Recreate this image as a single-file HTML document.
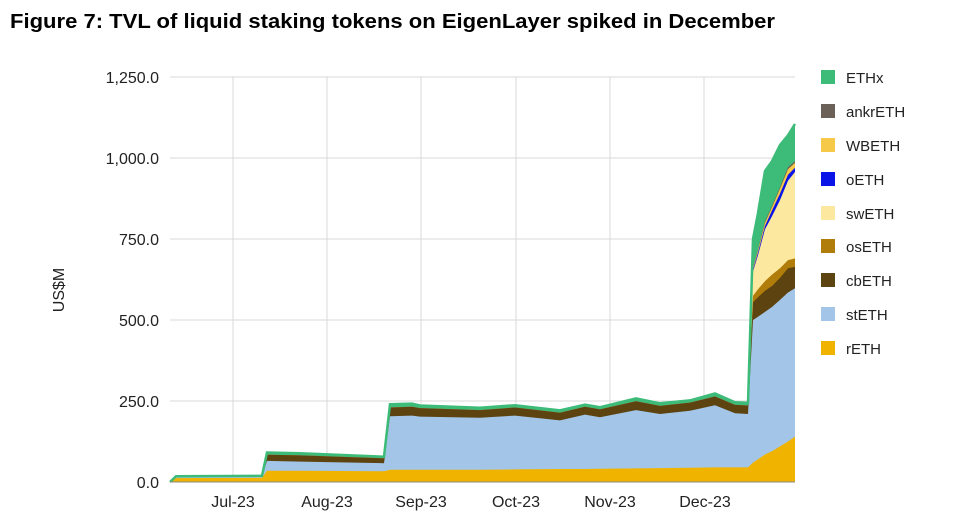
<!DOCTYPE html>
<html><head><meta charset="utf-8"><style>
body{margin:0;background:#fff;width:972px;height:524px;overflow:hidden;font-family:"Liberation Sans",sans-serif}
</style></head><body>
<svg width="972" height="524" xmlns="http://www.w3.org/2000/svg" font-family="Liberation Sans, sans-serif">
<text x="10" y="28" font-size="20" font-weight="bold" fill="#000" textLength="765" lengthAdjust="spacingAndGlyphs">Figure 7: TVL of liquid staking tokens on EigenLayer spiked in December</text>
<g stroke="#d9d9d9" stroke-width="1">
<line x1="170" x2="795" y1="77" y2="77"/><line x1="170" x2="795" y1="158" y2="158"/>
<line x1="170" x2="795" y1="239" y2="239"/><line x1="170" x2="795" y1="320" y2="320"/>
<line x1="170" x2="795" y1="401" y2="401"/>
<line x1="233" x2="233" y1="77" y2="482"/><line x1="327" x2="327" y1="77" y2="482"/>
<line x1="421" x2="421" y1="77" y2="482"/><line x1="516" x2="516" y1="77" y2="482"/>
<line x1="610" x2="610" y1="77" y2="482"/><line x1="704" x2="704" y1="77" y2="482"/>
</g>
<g id="areas"></g>
<line x1="170" x2="795" y1="482" y2="482" stroke="#888"/>
<g font-size="16" fill="#222" text-anchor="end">
<text x="159" y="83">1,250.0</text><text x="159" y="164">1,000.0</text>
<text x="159" y="245">750.0</text><text x="159" y="326">500.0</text>
<text x="159" y="407">250.0</text><text x="159" y="488">0.0</text>
</g>
<g font-size="16" fill="#222" text-anchor="middle">
<text x="233" y="507">Jul-23</text><text x="327" y="507">Aug-23</text><text x="421" y="507">Sep-23</text>
<text x="516" y="507">Oct-23</text><text x="610" y="507">Nov-23</text><text x="705" y="507">Dec-23</text>
</g>
<text transform="translate(64,290) rotate(-90)" font-size="16" fill="#222" text-anchor="middle">US$M</text>
<g font-size="15" fill="#222">
<rect x="821" y="70" width="14" height="14" fill="#3dbb78"/><text x="846" y="83">ETHx</text>
<rect x="821" y="104" width="14" height="14" fill="#6b6159"/><text x="846" y="117">ankrETH</text>
<rect x="821" y="138" width="14" height="14" fill="#f7c948"/><text x="846" y="151">WBETH</text>
<rect x="821" y="172" width="14" height="14" fill="#0a14e6"/><text x="846" y="185">oETH</text>
<rect x="821" y="206" width="14" height="14" fill="#fde8a0"/><text x="846" y="219">swETH</text>
<rect x="821" y="239" width="14" height="14" fill="#b07d0a"/><text x="846" y="252">osETH</text>
<rect x="821" y="273" width="14" height="14" fill="#5c4310"/><text x="846" y="286">cbETH</text>
<rect x="821" y="307" width="14" height="14" fill="#a3c6e8"/><text x="846" y="320">stETH</text>
<rect x="821" y="341" width="14" height="14" fill="#f0b400"/><text x="846" y="354">rETH</text>
</g>
</svg>
<script>
var D=[
[170,0,0,0,0,0,0,0,0,0],
[176,12,16,16,16,16,16,16,16,18],
[262,13,17,17,17,17,17,17,17,19],
[267,35,65,84,84,84,84,84,84,91],
[300,35,63,82,82,82,82,82,82,89],
[384,33,58,73,73,73,73,73,73,78],
[390,38,203,230,230,230,230,230,230,240],
[412,38,205,232,232,232,232,232,232,242],
[420,38,202,228,228,228,228,228,228,236],
[480,38,198,222,222,222,222,222,222,229],
[515,39,205,230,230,230,230,230,230,237],
[560,40,190,214,214,214,214,214,214,221],
[585,40,208,232,232,232,232,232,232,239],
[600,41,200,224,224,224,224,224,224,231],
[636,42,222,249,249,249,249,249,249,258],
[660,43,210,235,235,235,235,235,235,243],
[690,44,220,245,245,245,245,245,245,252],
[715,45,237,264,264,264,264,264,264,273],
[735,45,212,238,238,238,238,238,238,246],
[748,45,210,236,236,236,236,236,236,244],
[753,60,500,555,575,650,655,660,662,750],
[758,70,510,570,595,700,708,715,718,830],
[765,85,525,590,620,780,790,800,805,960],
[772,95,540,605,640,820,838,848,852,990],
[780,110,562,630,660,870,890,905,910,1040],
[788,125,585,660,685,930,948,965,972,1070],
[795,140,598,664,690,957,970,985,990,1105]];
var C=["#f0b400","#a3c6e8","#5c4310","#b07d0a","#fde8a0","#0a14e6","#f7c948","#6b6159","#3dbb78"];
var g=document.getElementById("areas"),ns="http://www.w3.org/2000/svg";
function y(v){return 482-v*0.324;}
for(var k=8;k>=0;k--){var p=[];
 for(var i=0;i<D.length;i++)p.push(D[i][0]+","+y(D[i][k+1]).toFixed(1));
 p.push("795,482","170,482");
 var e=document.createElementNS(ns,"polygon");e.setAttribute("points",p.join(" "));e.setAttribute("fill",C[k]);g.appendChild(e);}
var q=[];for(var i=0;i<D.length;i++)q.push(D[i][0]+","+y(D[i][9]).toFixed(1));
var l=document.createElementNS(ns,"polyline");l.setAttribute("points",q.join(" "));l.setAttribute("fill","none");l.setAttribute("stroke","#3dbb78");l.setAttribute("stroke-width","2.5");g.appendChild(l);
</script>
</body></html>
